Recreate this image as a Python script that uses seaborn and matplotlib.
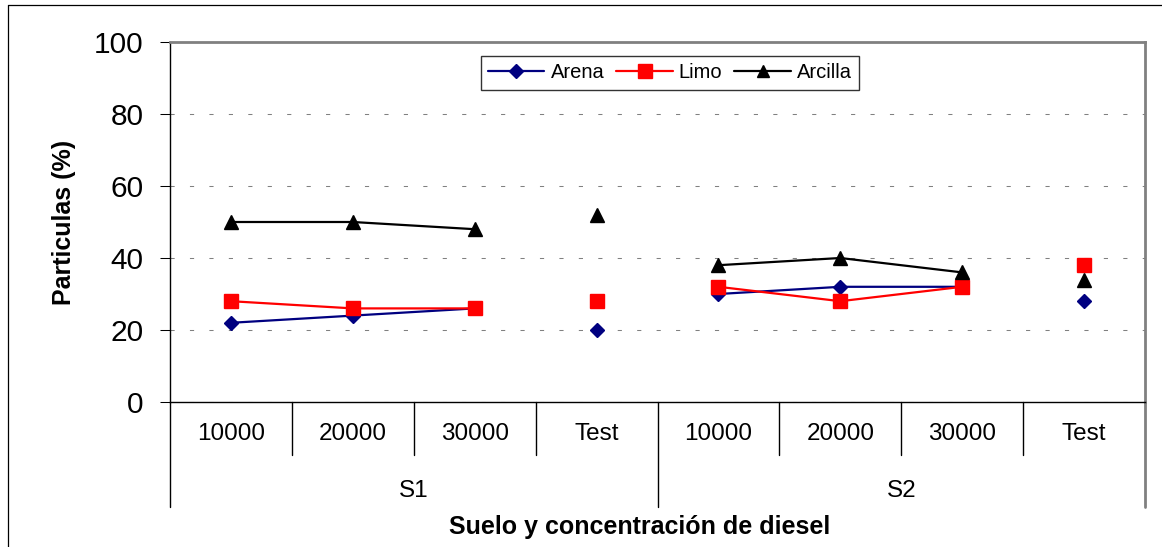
import matplotlib
matplotlib.use("Agg")
import matplotlib.pyplot as plt
from matplotlib.lines import Line2D
import numpy as np
import pandas as pd
import seaborn as sns

# ---- data -------------------------------------------------------------
suelos = ["S1", "S2"]
concentraciones = ["10000", "20000", "30000", "Test"]
arena = [22, 24, 26, 20, 30, 32, 32, 28]
limo = [28, 26, 26, 28, 32, 28, 32, 38]
arcilla = [50, 50, 48, 52, 38, 40, 36, 34]
# connected runs: the three concentrations of each soil form a line,
# the "Test" samples stand alone
tramo = [0, 0, 0, 1, 2, 2, 2, 3]

series = {"Arena": arena, "Limo": limo, "Arcilla": arcilla}
estilos = {
    "Arena": dict(color="#000080", marker="D", ms=7.4),
    "Limo": dict(color="#FF0000", marker="s", ms=10.5),
    "Arcilla": dict(color="#000000", marker="^", ms=9.5),
}

etiquetas_x = concentraciones * len(suelos)
pos = np.arange(len(etiquetas_x))

rows = []
for nombre, vals in series.items():
    for p, v, t in zip(pos, vals, tramo):
        rows.append(dict(pos=p, valor=v, fraccion=nombre, tramo=t))
df = pd.DataFrame(rows)

# ---- style ------------------------------------------------------------
sns.set_style("white")
plt.rcParams["font.family"] = ["Liberation Sans", "DejaVu Sans"]
plt.rcParams["lines.scale_dashes"] = False
for k in ("text.color", "axes.labelcolor", "xtick.color", "ytick.color"):
    plt.rcParams[k] = "black"

W, H = 1162, 547
fig = plt.figure(figsize=(W / 100, H / 100), dpi=100)
L, R, T, B = 170, 1145, 42, 402
ax = fig.add_axes([L / W, 1 - B / H, (R - L) / W, (B - T) / H])

for nombre in series:
    st = estilos[nombre]
    sns.lineplot(
        data=df[df["fraccion"] == nombre], x="pos", y="valor",
        units="tramo", estimator=None, ax=ax, legend=False,
        color=st["color"], marker=st["marker"], markersize=st["ms"],
        markeredgecolor=st["color"], markeredgewidth=1,
        linewidth=1.6, zorder=3,
    )

# ---- axes -------------------------------------------------------------
ax.set_xlim(-0.5, len(pos) - 0.5)
ax.set_ylim(0, 100)
ax.set_yticks(np.arange(0, 101, 20))
ax.tick_params(axis="y", labelsize=21.5, length=7.2, width=0.75,
               color="black", labelcolor="black", pad=12, left=True)
ax.set_xticks(pos)
ax.set_xticklabels(etiquetas_x)
ax.tick_params(axis="x", labelsize=17.5, length=0, pad=15,
               labelcolor="black")

ax.yaxis.grid(True, color="#808080", linewidth=0.75,
              linestyle=(0, (3, 11)))
ax.xaxis.grid(False)
ax.set_axisbelow(True)

for s in ("left", "bottom"):
    ax.spines[s].set_color("black")
    ax.spines[s].set_linewidth(1.0)
for s in ("top", "right"):
    ax.spines[s].set_color("#808080")
    ax.spines[s].set_linewidth(2.0)

ax.set_ylabel("Particulas (%)", fontsize=18, fontweight="bold", va="center",
              color="black")
ax.yaxis.set_label_coords(-0.109, 0.5)
ax.set_xlabel("Suelo y concentración de diesel", fontsize=18,
              fontweight="bold", va="center", color="black")
ax.xaxis.set_label_coords((640 - L) / (R - L), -(527 - B) / (B - T))

# ---- multi-level category axis ---------------------------------------
xt = ax.get_xaxis_transform()
h = B - T
corto = -(455 - B) / h
largo = -(507 - B) / h
n_niv = len(concentraciones)
for k in range(len(pos) + 1):
    borde = k - 0.5
    if k % n_niv == 0:
        col = "#808080" if k == len(pos) else "black"
        ax.plot([borde, borde], [0, largo], transform=xt, color=col,
                lw=2.0 if k == len(pos) else 1.0, clip_on=False)
    else:
        ax.plot([borde, borde], [0, corto], transform=xt, color="black",
                lw=1.0, clip_on=False)
for i, s in enumerate(suelos):
    centro = i * n_niv + (n_niv - 1) / 2
    ax.text(centro, -(491 - B) / h, s, transform=xt, ha="center",
            va="center", fontsize=17.5, color="black")

# ---- legend -----------------------------------------------------------
handles = [
    Line2D([], [], color=estilos[n]["color"], marker=estilos[n]["marker"],
           markersize=estilos[n]["ms"] * 0.9, markeredgecolor=estilos[n]["color"],
           linewidth=1.6, label=n)
    for n in series
]
leg = ax.legend(handles=handles, loc="center",
                bbox_to_anchor=((670 - L) / (R - L), (B - 73) / h),
                ncol=3, fontsize=14.5, frameon=True, fancybox=False,
                edgecolor="black", handlelength=2.8, handletextpad=0.3,
                columnspacing=0.6, borderpad=0.35)
leg.get_frame().set_linewidth(1.0)
for t in leg.get_texts():
    t.set_color("black")

# ---- outer chart border -----------------------------------------------
fig.add_artist(Line2D([8 / W, 1], [1 - 5 / H, 1 - 5 / H],
                      transform=fig.transFigure, color="black", lw=0.9))
fig.add_artist(Line2D([8 / W, 8 / W], [0, 1 - 5 / H],
                      transform=fig.transFigure, color="black", lw=0.9))

fig.savefig("out.png", dpi=100)
